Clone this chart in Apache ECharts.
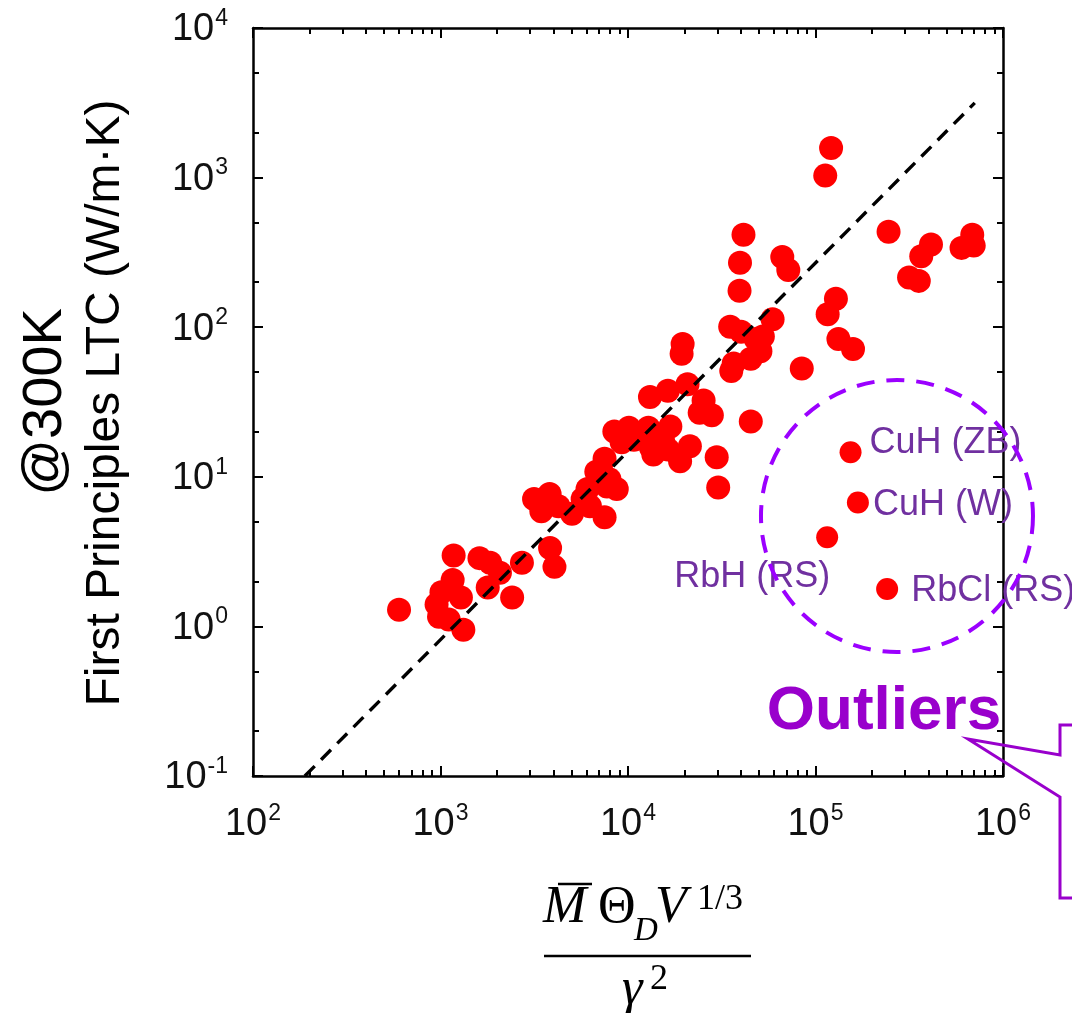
<!DOCTYPE html>
<html><head><meta charset="utf-8">
<script src="https://cdn.jsdelivr.net/npm/echarts@6/dist/echarts.min.js"></script>
<style>html,body{margin:0;padding:0;background:#fff}#c{width:1072px;height:1013px}</style>
</head><body><div id="c"></div>
<script>
// ---- data ----
const mainX = [601,1175,1161,1012,953,982,1285,1324,1107,1614,1841,2075,1786,2410,2718,3841,4053,
  3155,3819,3451,4257,5026,5728,6266,7499,6084,6776,7499,7961,8711,7730,
  8456,10117,10742,9252,12845,13245,13650,16822,15392,16322,18957,21380,29717,30274,
  13097,16322,20773,25303,24113,27997,45168,19557,19318,
  35069,40091,36619,35548,45168,50840,52390,59040,47980,84470,
  41300,39570,39340,66500,71600,121100,112700,245300,128500,116100,132500,158500,
  413000,366500,315500,355500,685500,601000,698000];
const mainY = [1.29,2.98,2.04,1.69,1.40,1.16,1.56,0.95,1.11,2.86,2.66,2.28,1.82,1.56,2.66,3.34,2.50,
  7.11,7.67,5.89,6.35,5.66,7.11,6.35,5.37,8.28,10.8,13.2,9.64,8.28,8.6,
  20.1,21.3,17.7,17.0,21.3,15.7,14.1,21.7,17.3,15.2,12.7,16.0,13.5,8.47,
  34.1,37.6,41.5,32.4,26.8,25.8,23.4,77.3,66.4,
  100.7,93.3,57.1,51,61.5,69,86.7,113,83.4,53,
  415,270,175,295,241,1575,1031,435,155,122,83.4,71.6,
  357,298,215,204,415,339,351];
const outlierNames = ['CuH (ZB)','CuH (W)','RbH (RS)','RbCl (RS)'];
const outlierX = [153800,168300,115400,241000];
const outlierY = [14.6,6.74,3.94,1.78];
const fitX = [189,707000];
const fitY = [0.1,3160];
const circleCenter = [272000,5.47];
const xMajor = [100,1000,10000,100000,1000000];
const xMinor = [200,300,400,500,600,700,800,900,2000,3000,4000,5000,6000,7000,8000,9000,
  20000,30000,40000,50000,60000,70000,80000,90000,200000,300000,400000,500000,600000,700000,800000,900000];
const yMajor = [0.1,1,10,100,1000,10000];
const yMinor = [0.2,0.5,2,5,20,50,200,500,2000,5000];

const chart = echarts.init(document.getElementById('c'), null, {renderer:'canvas'});
const fmt = v => '{b|10}{s|' + Math.round(Math.log10(v)) + '}';
const rich = {
  b:{fontSize:38, fontFamily:'Liberation Sans, Arial', color:'#111', lineHeight:42, verticalAlign:'bottom'},
  s:{fontSize:23, fontFamily:'Liberation Sans, Arial', color:'#111', lineHeight:42, verticalAlign:'top', padding:[0,0,0,1]}
};
function xAx(pos, ticks, len, line, label){
  return {type:'log', logBase:10, min:100, max:1000000, position:pos,
    axisLine:{show:line, onZero:false, lineStyle:{color:'#000', width:2.5}},
    axisTick:{show:true, inside:true, length:len, customValues:ticks, lineStyle:{color:'#000', width:2}},
    axisLabel:{show:label, customValues:xMajor, formatter:fmt, rich:rich, margin:26},
    splitLine:{show:false}, minorTick:{show:false}};
}
function yAx(pos, ticks, len, line, label){
  return {type:'log', logBase:10, min:0.1, max:10000, position:pos,
    axisLine:{show:line, onZero:false, lineStyle:{color:'#000', width:2.5}},
    axisTick:{show:true, inside:true, length:len, customValues:ticks, lineStyle:{color:'#000', width:2}},
    axisLabel:{show:label, customValues:yMajor, formatter:fmt, rich:rich, margin:25},
    splitLine:{show:false}, minorTick:{show:false}};
}
const option = {
  backgroundColor:'#fff',
  animation:false,
  grid:{left:253, top:28, right:69, bottom:237, containLabel:false},
  xAxis:[xAx('bottom', xMajor, 10, true, true), xAx('bottom', xMinor, 6, false, false),
         xAx('top', xMajor, 10, true, false), xAx('top', xMinor, 6, false, false)],
  yAxis:[yAx('left', yMajor, 10, true, true), yAx('left', yMinor, 6, false, false),
         yAx('right', yMajor, 10, true, false), yAx('right', yMinor, 6, false, false)],
  series:[
    {type:'line', xAxisIndex:0, yAxisIndex:0, data:fitX.map((x,i)=>[x,fitY[i]]), symbol:'none',
     lineStyle:{color:'#000', width:3.4, type:[14,9]}, z:3, silent:true},
    {type:'scatter', xAxisIndex:0, yAxisIndex:0, data:mainX.map((x,i)=>[x,mainY[i]]),
     symbolSize:24, itemStyle:{color:'#ff0000', opacity:1}, z:2},
    {type:'scatter', xAxisIndex:0, yAxisIndex:0, symbolSize:22, itemStyle:{color:'#ff0000', opacity:1}, z:4,
     data:outlierX.map((x,i)=>{
       const lab = [
         {position:'right', distance:8, offset:[0,-9]},
         {position:'right', distance:4, offset:[0,3]},
         {position:'left', distance:-14, offset:[0,40]},
         {position:'right', distance:13, offset:[0,2]}][i];
       return {value:[x,outlierY[i]], name:outlierNames[i],
         label:Object.assign({show:true, formatter:outlierNames[i], color:'#7030A0', opacity:1,
           fontSize:36, fontFamily:'Liberation Sans, Arial'}, lab)};
     })}
  ]
};
chart.setOption(option);

const c = chart.convertToPixel({xAxisIndex:0, yAxisIndex:0}, circleCenter);
const purple = '#9900CC';
const serif = 'Liberation Serif, serif';
chart.setOption({graphic:[
  {type:'circle', shape:{cx:c[0], cy:c[1], r:136}, style:{fill:'none', stroke:'#9B00FF', lineWidth:4, lineDash:[18,12]}, z:10},
  {type:'text', x:884, y:712, style:{text:'Outliers', fontSize:62, fontWeight:'bold', fontFamily:'Liberation Sans, Arial', fill:purple, align:'center', verticalAlign:'middle'}, z:10},
  {type:'polyline', shape:{points:[[1072,725],[1060,725],[1060,755],[968,739],[1060,797],[1060,898],[1072,898]]},
   style:{fill:'none', stroke:purple, lineWidth:3}, z:10},
  {type:'text', x:46, y:402, rotation:Math.PI/2, style:{text:'@300K', fontSize:56, fontFamily:'Liberation Sans, Arial', fill:'#000', align:'center', verticalAlign:'middle'}},
  {type:'text', x:106, y:403, rotation:Math.PI/2, style:{text:'First Principles LTC (W/m·K)', fontSize:48, fontFamily:'Liberation Sans, Arial', fill:'#000', align:'center', verticalAlign:'middle'}},
  // formula x-axis title
  {type:'text', x:543, y:934, style:{text:'M', fontSize:52, fontStyle:'italic', fontFamily:serif, fill:'#000', align:'left', verticalAlign:'bottom'}},
  {type:'line', shape:{x1:558, y1:884, x2:592, y2:884}, style:{stroke:'#000', lineWidth:2.5}},
  {type:'text', x:598, y:934, style:{text:'Θ', fontSize:52, fontFamily:serif, fill:'#000', align:'left', verticalAlign:'bottom'}},
  {type:'text', x:634, y:948, style:{text:'D', fontSize:33, fontStyle:'italic', fontFamily:serif, fill:'#000', align:'left', verticalAlign:'bottom'}},
  {type:'text', x:655, y:934, style:{text:'V', fontSize:52, fontStyle:'italic', fontFamily:serif, fill:'#000', align:'left', verticalAlign:'bottom'}},
  {type:'text', x:697, y:918, style:{text:'1/3', fontSize:36, fontFamily:serif, fill:'#000', align:'left', verticalAlign:'bottom'}},
  {type:'line', shape:{x1:544, y1:956, x2:751, y2:956}, style:{stroke:'#000', lineWidth:2.5}},
  {type:'text', x:622, y:1016, style:{text:'γ', fontSize:52, fontStyle:'italic', fontFamily:serif, fill:'#000', align:'left', verticalAlign:'bottom'}},
  {type:'text', x:650, y:998, style:{text:'2', fontSize:36, fontFamily:serif, fill:'#000', align:'left', verticalAlign:'bottom'}}
]});
</script></body></html>
